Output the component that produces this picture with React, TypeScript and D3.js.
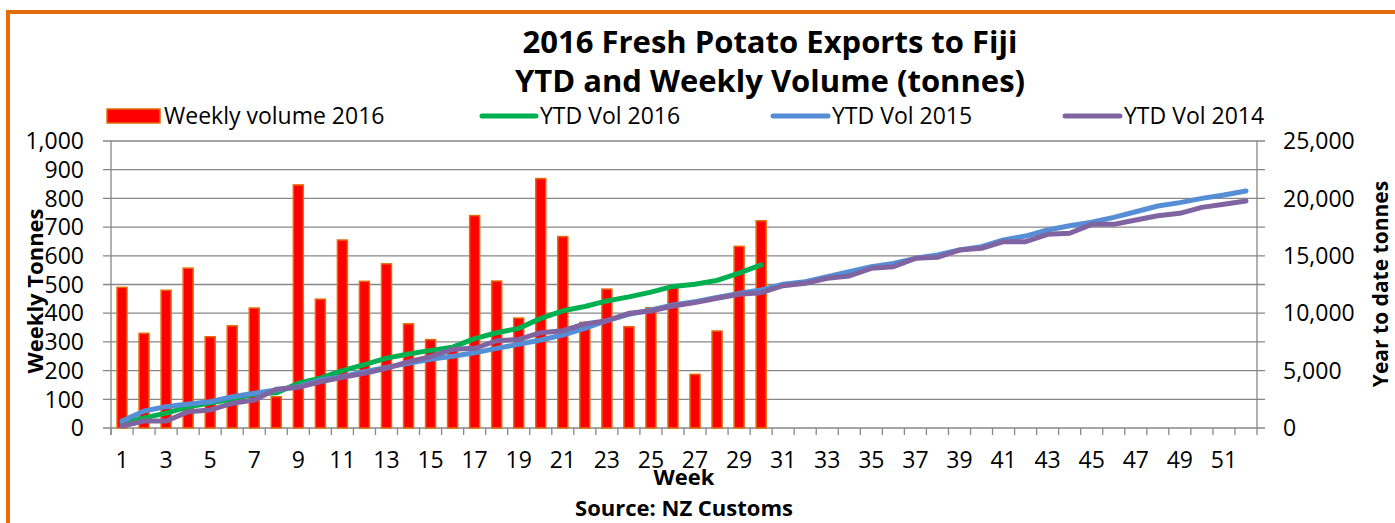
import React from "react";
import * as d3 from "d3";

const weeks: number[] = d3.range(1, 53);
const weekly2016: number[] = [490, 330, 480, 557, 318, 356, 418, 109, 847, 449, 655, 511, 572, 363, 308, 280, 740, 512, 383, 869, 667, 368, 484, 353, 419, 492, 187, 338, 633, 722];
const ytd2016: number[] = [400, 880, 1300, 1850, 2180, 2530, 2950, 3060, 3900, 4350, 5000, 5520, 6090, 6450, 6760, 7040, 7780, 8300, 8680, 9550, 10210, 10580, 11070, 11420, 11840, 12330, 12520, 12860, 13490, 14210];
const ytd2015: number[] = [600, 1480, 1860, 2090, 2290, 2730, 3020, 3310, 3600, 4180, 4470, 4900, 5280, 5630, 5980, 6250, 6560, 6940, 7290, 7670, 8100, 8680, 9350, 9900, 10280, 10710, 11000, 11380, 11730, 12020, 12520, 12740, 13180, 13620, 14050, 14340, 14780, 15070, 15500, 15790, 16380, 16720, 17250, 17620, 17920, 18350, 18840, 19340, 19630, 20000, 20300, 20640];
const ytd2014: number[] = [170, 610, 600, 1420, 1570, 2150, 2440, 3370, 3540, 4030, 4410, 4760, 5200, 5780, 6210, 6850, 6940, 7600, 7720, 8300, 8480, 9060, 9350, 9990, 10190, 10630, 10920, 11300, 11650, 11790, 12400, 12600, 13040, 13240, 13910, 14050, 14780, 14870, 15500, 15650, 16230, 16230, 16870, 16960, 17740, 17740, 18120, 18490, 18700, 19220, 19490, 19770];
const leftTicks: number[] = [0, 100, 200, 300, 400, 500, 600, 700, 800, 900, 1000];
const rightTicks: number[] = [0, 5000, 10000, 15000, 20000, 25000];
const titleLines: string[] = ["2016 Fresh Potato Exports to Fiji", "YTD and Weekly Volume (tonnes)"];

const W = 1395;
const H = 523;
const M = { left: 111, right: 1257, top: 141, bottom: 428 };
const FONT = "'Open Sans', sans-serif";
const GRID = "#878787";
const C16 = "#00B050";
const C15 = "#558ED5";
const C14 = "#8064A2";

export default function App() {
  const x = d3.scaleBand<number>().domain(weeks).range([M.left, M.right]).paddingInner(0).paddingOuter(0);
  const yL = d3.scaleLinear().domain([0, 1000]).range([M.bottom, M.top]);
  const yR = d3.scaleLinear().domain([0, 25000]).range([M.bottom, M.top]);
  const cx = (w: number) => (x(w) as number) + x.bandwidth() / 2;
  const line = d3
    .line<number>()
    .x((_, i) => cx(weeks[i]))
    .y((d) => yR(d));
  const barW = 10;

  const legend = [
    { kind: "bar", label: "Weekly volume 2016", x0: 107, x1: 160, color: "#FF0000" },
    { kind: "line", label: "YTD Vol 2016", x0: 482, x1: 536, color: C16 },
    { kind: "line", label: "YTD Vol 2015", x0: 773, x1: 828, color: C15 },
    { kind: "line", label: "YTD Vol 2014", x0: 1065, x1: 1120, color: C14 },
  ];
  const legY = 116;

  return (
    <svg width={W} height={H} style={{ position: "absolute", left: 0, top: 0, background: "#fff" }} fontFamily={FONT}>
      <rect x={0} y={0} width={W} height={H} fill="#fff" />
      <rect x={8} y={12} width={W + 20} height={H + 20} fill="none" stroke="#E46C0A" strokeWidth={4} />
      {/* title */}
      {titleLines.map((t, i) => (
        <text key={t} x={770} y={53 + i * 39} textAnchor="middle" fontSize={31} fontWeight="bold" fill="#000">
          {t}
        </text>
      ))}
      {/* legend */}
      {legend.map((l) => (
        <g key={l.label}>
          {l.kind === "bar" ? (
            <rect x={l.x0} y={legY - 7} width={l.x1 - l.x0} height={14} fill={l.color} stroke="#E46C0A" strokeWidth={1.5} />
          ) : (
            <line x1={l.x0} x2={l.x1} y1={legY} y2={legY} stroke={l.color} strokeWidth={5} strokeLinecap="round" />
          )}
          <text x={l.x1 + 4} y={legY + 8} fontSize={23} fill="#000">
            {l.label}
          </text>
        </g>
      ))}
      {/* gridlines */}
      {leftTicks.map((t) => (
        <line key={"g" + t} x1={M.left - 8} x2={M.right + 8} y1={yL(t)} y2={yL(t)} stroke={GRID} strokeWidth={1.3} />
      ))}
      {/* axes */}
      <line x1={M.left} x2={M.left} y1={M.top} y2={M.bottom + 7} stroke={GRID} strokeWidth={1.3} />
      <line x1={M.right} x2={M.right} y1={M.top} y2={M.bottom + 7} stroke={GRID} strokeWidth={1.3} />
      {weeks.map((w) => (
        <line key={"t" + w} x1={x(w) as number} x2={x(w) as number} y1={M.bottom} y2={M.bottom + 7} stroke={GRID} strokeWidth={1.3} />
      ))}
      {/* left labels */}
      {leftTicks.map((t) => (
        <text key={"l" + t} x={84} y={yL(t)} dy="0.36em" textAnchor="end" fontSize={23} fill="#000">
          {d3.format(",")(t)}
        </text>
      ))}
      {rightTicks.map((t) => (
        <text key={"r" + t} x={1283} y={yR(t)} dy="0.36em" textAnchor="start" fontSize={23} fill="#000">
          {d3.format(",")(t)}
        </text>
      ))}
      {/* x labels */}
      {weeks
        .filter((w) => w % 2 === 1)
        .map((w) => (
          <text key={"x" + w} x={cx(w)} y={468} textAnchor="middle" fontSize={23} fill="#000">
            {w}
          </text>
        ))}
      {/* bars */}
      {weekly2016.map((v, i) => (
        <rect
          key={"b" + i}
          x={cx(weeks[i]) - barW / 2}
          y={yL(v)}
          width={barW}
          height={yL(0) - yL(v)}
          fill="#FF0000"
          stroke="#E46C0A"
          strokeWidth={1.5}
        />
      ))}
      {/* lines */}
      <path d={line(ytd2016) || ""} fill="none" stroke={C16} strokeWidth={5} strokeLinecap="round" strokeLinejoin="round" />
      <path d={line(ytd2015) || ""} fill="none" stroke={C15} strokeWidth={5} strokeLinecap="round" strokeLinejoin="round" />
      <path d={line(ytd2014) || ""} fill="none" stroke={C14} strokeWidth={5} strokeLinecap="round" strokeLinejoin="round" />
      {/* axis titles */}
      <text transform="translate(43,291) rotate(-90)" textAnchor="middle" fontSize={22} fontWeight="bold" fill="#000">
        Weekly Tonnes
      </text>
      <text transform="translate(1388,284) rotate(-90)" textAnchor="middle" fontSize={21} fontWeight="bold" fill="#000">
        Year to date tonnes
      </text>
      <text x={684} y={485} textAnchor="middle" fontSize={22} fontWeight="bold" fill="#000">
        Week
      </text>
      <text x={684} y={516} textAnchor="middle" fontSize={22} fontWeight="bold" fill="#000">
        Source: NZ Customs
      </text>
    </svg>
  );
}
